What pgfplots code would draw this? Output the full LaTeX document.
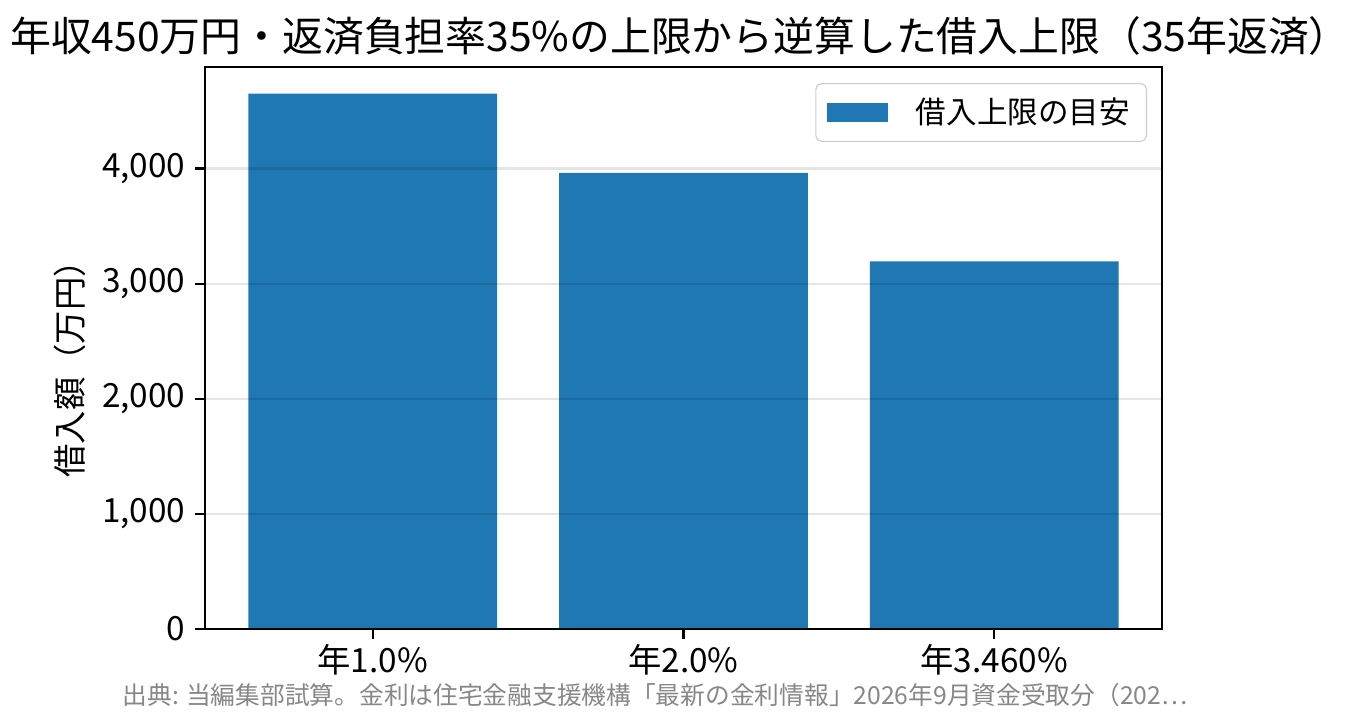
\documentclass[border=0pt]{standalone}
\usepackage{fontspec}
\setmainfont{Noto Sans CJK JP}
\usepackage{pgfplots}
\pgfplotsset{compat=1.18}
\definecolor{mplblue}{HTML}{1F77B4}
\begin{document}
\begin{tikzpicture}[x=0.36pt,y=0.36pt]
\path[use as bounding box] (0,0) rectangle (1368,725);
\begin{axis}[
  at={(73.8pt,34.56pt)}, anchor=south west,
  scale only axis, width=344.52pt, height=202.32pt,
  xmin=-0.54, xmax=2.54, ymin=0, ymax=4882,
  ybar, bar width=0.8, bar shift=0pt,
  xtick={0,1,2}, xticklabels={年1.0\%, 年2.0\%, 年3.460\%},
  ytick={0,1000,2000,3000,4000},
  /pgf/number format/assume math mode=true,
  /pgf/number format/1000 sep={,},
  scaled y ticks=false,
  tick label style={font=\fontsize{12}{14}\selectfont},
  xticklabel style={yshift=1.5pt},
  tick align=outside, tick pos=left,
  major tick length=3.5pt,
  every tick/.style={black, line width=0.8pt},
  axis line style={black, line width=0.8pt},
  ymajorgrids, grid style={black, opacity=0.1, line width=0.8pt},
  axis on top,
  ylabel={借入額（万円）},
  ylabel style={font=\fontsize{12}{14}\selectfont, at={(axis description cs:-0.141,0.477)}, anchor=center},
  legend style={at={(1,1)}, xshift=-5.4pt, yshift=-5.8pt, anchor=north east,
    draw=black!20, rounded corners=2pt, font=\fontsize{11}{13}\selectfont,
    inner xsep=4pt, inner ysep=3pt},
  legend cell align=left,
  legend image code/.code={\fill[#1, sharp corners] (0pt,-3.5pt) rectangle (22pt,3.5pt); \path (30pt,0pt);},
]
\addplot[fill=mplblue, draw=none] coordinates {(0,4650) (1,3962) (2,3194)};
\addlegendentry{借入上限の目安}
\end{axis}
\node[font=\fontsize{14.7}{17}\selectfont] at (680,689) {年収450万円・返済負担率35\%の上限から逆算した借入上限（35年返済）};
\node[font=\fontsize{8.9}{11}\selectfont, text=black!47, anchor=west, inner sep=0pt] at (122,30) {出典: 当編集部試算。金利は住宅金融支援機構「最新の金利情報」2026年9月資金受取分（202…};
\end{tikzpicture}
\end{document}
